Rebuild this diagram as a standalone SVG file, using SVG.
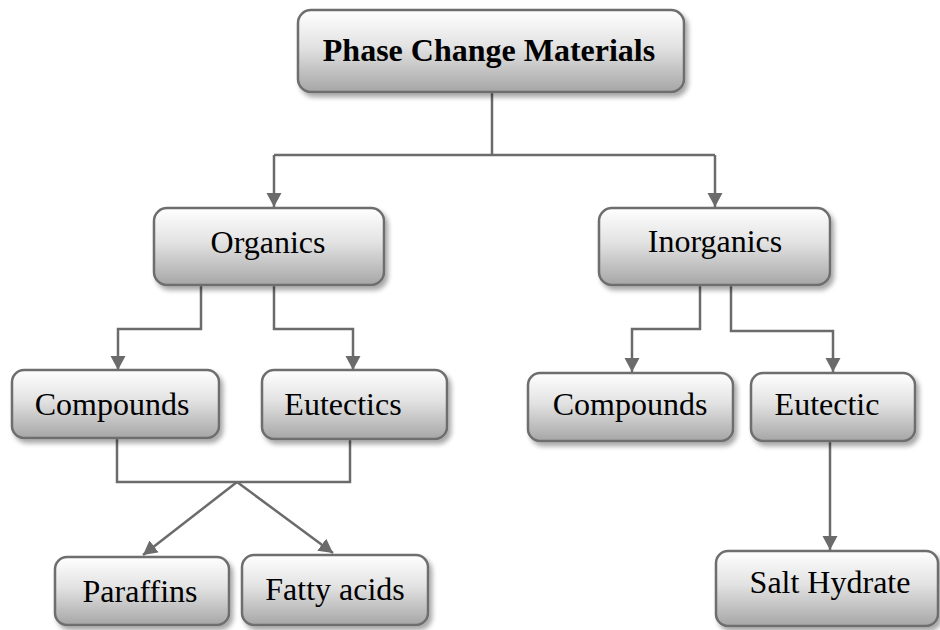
<svg xmlns="http://www.w3.org/2000/svg" width="940" height="630" viewBox="0 0 940 630">
<defs>
<linearGradient id="g" x1="0" y1="0" x2="0" y2="1">
<stop offset="0" stop-color="#ffffff"/>
<stop offset="0.45" stop-color="#e2e2e2"/>
<stop offset="1" stop-color="#a6a6a6"/>
</linearGradient>
<filter id="sh" x="-10%" y="-10%" width="130%" height="140%">
<feGaussianBlur in="SourceAlpha" stdDeviation="2.5"/>
<feOffset dx="3" dy="4" result="b"/>
<feComponentTransfer><feFuncA type="linear" slope="0.35"/></feComponentTransfer>
<feMerge><feMergeNode/><feMergeNode in="SourceGraphic"/></feMerge>
</filter>
<marker id="ar" markerUnits="userSpaceOnUse" markerWidth="16" markerHeight="16" refX="14" refY="7.5" orient="auto" viewBox="0 0 16 16">
<path d="M0,0 L14,7.5 L0,15 z" fill="#6b6b6b"/>
</marker>
</defs>
<style>
.box{fill:url(#g);stroke:#6e6e6e;stroke-width:2.5;filter:url(#sh)}
.t{font-family:"Liberation Serif","Times New Roman",serif;font-size:32px;fill:#000;text-anchor:middle}
.b{font-weight:bold}
.c{fill:none;stroke:#6b6b6b;stroke-width:2.5}
.a{marker-end:url(#ar)}
</style>
<g id="connectors">
<path class="c" d="M492,92 V155"/>
<path class="c" d="M274,155 H715"/>
<path class="c a" d="M274,155 V207"/>
<path class="c a" d="M715,155 V207"/>
<path class="c a" d="M201,285 V329 H118 V370"/>
<path class="c a" d="M274,285 V329 H353 V370"/>
<path class="c a" d="M700,285 V329 H632 V372"/>
<path class="c a" d="M731,285 V331 H833 V372"/>
<path class="c" d="M117,438 V482 H350 V439"/>
<path class="c a" d="M237,482 L143,555"/>
<path class="c a" d="M237,482 L333,553"/>
<path class="c a" d="M830,441 V550"/>
</g>
<g id="pcm"><rect class="box" x="298" y="10" width="386" height="82" rx="13"/><text class="t b" x="489" y="61">Phase Change Materials</text></g>
<g id="organics"><rect class="box" x="154" y="208" width="230" height="77" rx="13"/><text class="t" x="268" y="253">Organics</text></g>
<g id="inorganics"><rect class="box" x="599" y="208" width="231" height="77" rx="13"/><text class="t" x="715" y="252">Inorganics</text></g>
<g id="org-compounds"><rect class="box" x="12" y="370" width="207" height="68" rx="12"/><text class="t" x="112" y="415">Compounds</text></g>
<g id="org-eutectics"><rect class="box" x="262" y="370" width="185" height="69" rx="12"/><text class="t" x="343" y="415">Eutectics</text></g>
<g id="paraffins"><rect class="box" x="55" y="557" width="174" height="68" rx="12"/><text class="t" x="140" y="602">Paraffins</text></g>
<g id="fatty-acids"><rect class="box" x="242" y="555" width="186" height="70" rx="12"/><text class="t" x="335" y="600">Fatty acids</text></g>
<g id="inorg-compounds"><rect class="box" x="528" y="373" width="205" height="68" rx="12"/><text class="t" x="630" y="415">Compounds</text></g>
<g id="inorg-eutectic"><rect class="box" x="751" y="373" width="164" height="68" rx="12"/><text class="t" x="827" y="415">Eutectic</text></g>
<g id="salt-hydrate"><rect class="box" x="716" y="551" width="222" height="75" rx="12"/><text class="t" x="830" y="593">Salt Hydrate</text></g>
</svg>
